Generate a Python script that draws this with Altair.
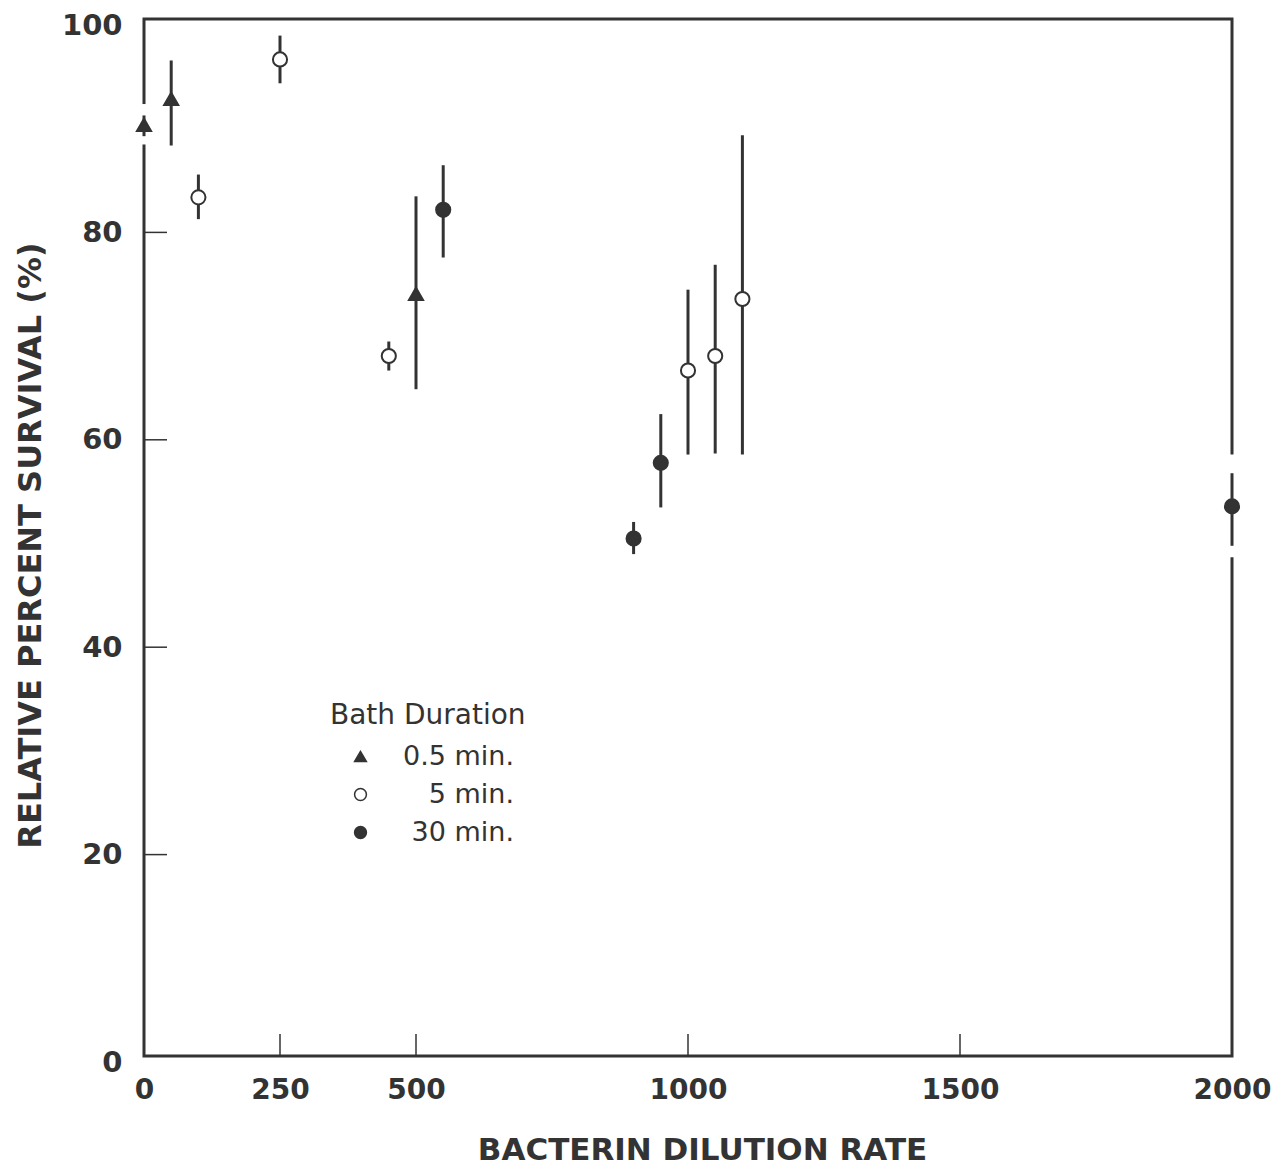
import altair as alt
import pandas as pd

# ---- data ----
groups = ["0.5 min.", "5 min.", "30 min."]

tri_x = [0, 50, 500]
tri_y = [89.8, 92.3, 73.5]
tri_lo = [88.7, 87.8, 64.3]
tri_hi = [90.7, 96.0, 82.9]

open_x = [100, 250, 450, 1000, 1050, 1100]
open_y = [82.8, 96.1, 67.5, 66.1, 67.5, 73.0]
open_lo = [80.7, 93.8, 66.1, 58.0, 58.1, 58.0]
open_hi = [85.0, 98.4, 68.9, 73.9, 76.3, 88.8]

fill_x = [550, 900, 950, 2000]
fill_y = [81.6, 49.9, 57.2, 53.0]
fill_lo = [77.0, 48.4, 52.9, 49.2]
fill_hi = [85.9, 51.5, 61.9, 56.2]

# breaks in the frame line around points lying on it
gap_x = [0, 2000]
gap_lo = [87.9, 48.1]
gap_hi = [91.8, 58.0]

x_labels = [0, 250, 500, 1000, 1500, 2000]
x_ticks = [250, 500, 1000, 1500]
y_labels = [0, 20, 40, 60, 80, 100]
y_ticks = [20, 40, 60, 80]

INK = "#333333"
W, H = 1088, 1037

rows = []
for g, xs, ys, los, his in [
    (groups[0], tri_x, tri_y, tri_lo, tri_hi),
    (groups[1], open_x, open_y, open_lo, open_hi),
    (groups[2], fill_x, fill_y, fill_lo, fill_hi),
]:
    for a, b, c, d in zip(xs, ys, los, his):
        rows.append({"group": g, "x": a, "y": b, "lo": c, "hi": d})
df = pd.DataFrame(rows)
gaps = pd.DataFrame({"x": gap_x, "lo": gap_lo, "hi": gap_hi})
xt = pd.DataFrame({"t": x_ticks})
yt = pd.DataFrame({"t": y_ticks})

xscale = alt.Scale(domain=[0, 2000], nice=False, zero=False)
yscale = alt.Scale(domain=[0, 100], nice=False)

X = alt.X(
    "x:Q", scale=xscale,
    axis=alt.Axis(
        title="BACTERIN DILUTION RATE", values=x_labels, format="d", ticks=False, domain=False,
        grid=False, labelFlush=False, labelFont="DejaVu Sans", labelFontWeight="bold",
        labelFontSize=28, labelColor=INK, labelPadding=20, labelOverlap=False,
        titleFont="DejaVu Sans", titleFontWeight="bold", titleFontSize=31, titleColor=INK,
        titleX=558, titleY=94, titleAlign="center", titleBaseline="middle",
    ),
)
Y = alt.Y(
    "y:Q", scale=yscale,
    axis=alt.Axis(
        title="RELATIVE PERCENT SURVIVAL (%)", values=y_labels, format="d", ticks=False,
        domain=False, grid=False, labelFont="DejaVu Sans", labelFontWeight="bold",
        labelFontSize=29, labelColor=INK, labelPadding=22, labelOverlap=False, labelOffset=6,
        titleFont="DejaVu Sans", titleFontWeight="bold", titleFontSize=32, titleColor=INK,
        titleAngle=270, titleX=-114, titleY=526, titleAlign="center", titleBaseline="middle",
    ),
)

gap_layer = alt.Chart(gaps).mark_rule(color="white", strokeWidth=10).encode(
    x=alt.X("x:Q", scale=xscale), y=alt.Y("lo:Q", scale=yscale), y2="hi:Q"
)

xtick_layer = alt.Chart(xt).mark_rule(color=INK, strokeWidth=1.5).encode(
    x=alt.X("t:Q", scale=xscale), y=alt.value(H), y2=alt.value(H - 22)
)
ytick_layer = alt.Chart(yt).mark_rule(color=INK, strokeWidth=1.5, yOffset=6).encode(
    y=alt.Y("t:Q", scale=yscale), x=alt.value(0), x2=alt.value(23)
)

bars = alt.Chart(df).mark_rule(color=INK, strokeWidth=3).encode(
    x=alt.X("x:Q", scale=xscale), y=alt.Y("lo:Q", scale=yscale), y2="hi:Q"
)

points = alt.Chart(df).mark_point(filled=True, strokeWidth=2, opacity=1, size=200).encode(
    x=X,
    y=Y,
    shape=alt.Shape(
        "group:N",
        scale=alt.Scale(domain=groups, range=["triangle-up", "circle", "circle"]),
        legend=alt.Legend(
            title="Bath Duration", orient="none", legendX=186, legendY=683,
            padding=0, titleFont="DejaVu Sans", titleFontWeight="normal", titleFontSize=28,
            titleColor=INK, titlePadding=13, titleLimit=500, labelFont="DejaVu Sans",
            labelFontSize=27, labelColor=INK, labelAlign="right", labelOffset=140,
            symbolOffset=17, symbolSize=140, symbolStrokeWidth=1.5,
            rowPadding=10, labelLimit=400,
        ),
    ),
    fill=alt.Fill(
        "group:N",
        scale=alt.Scale(domain=groups, range=[INK, "white", INK]),
        legend=None,
    ),
    stroke=alt.Stroke(
        "group:N",
        scale=alt.Scale(domain=groups, range=[INK, INK, INK]),
        legend=None,
    ),
)

chart = (
    alt.layer(gap_layer, xtick_layer, ytick_layer, bars, points)
    .properties(
        width=W, height=H,
        autosize=alt.AutoSizeParams(type="none"),
        padding={"left": 136, "top": 11, "right": 39, "bottom": 110},
        background="white",
    )
    .configure_view(stroke=INK, strokeWidth=3)
)

chart.save("out.html", embed_options={"renderer": "svg", "actions": False})
